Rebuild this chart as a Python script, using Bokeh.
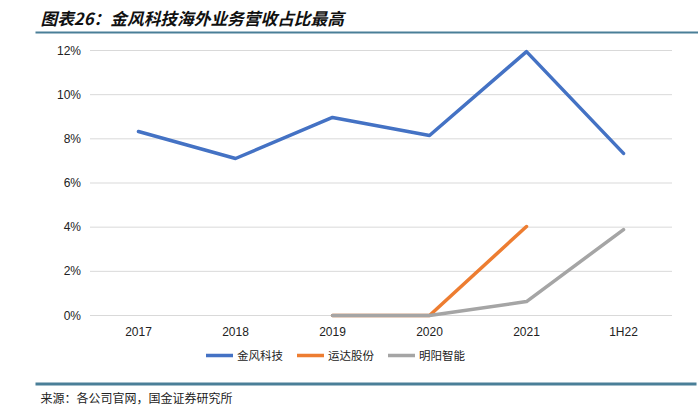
from bokeh.plotting import figure
from bokeh.models import (Range1d, FixedTicker, PrintfTickFormatter,
                          Legend, LegendItem, Label, BoxAnnotation)
from bokeh.embed import file_html
from bokeh.resources import INLINE

# ---- data ----
periods = ["2017", "2018", "2019", "2020", "2021", "1H22"]
goldwind = [8.33, 7.11, 8.97, 8.15, 11.95, 7.34]
windey_periods = ["2019", "2020", "2021"]
windey = [0.0, 0.0, 4.03]
mingyang_periods = ["2019", "2020", "2021", "1H22"]
mingyang = [0.0, 0.0, 0.63, 3.89]
series_names = ["金风科技", "运达股份", "明阳智能"]
colors = ["#4472C4", "#ED7D31", "#A5A5A5"]
yticks = [0, 2, 4, 6, 8, 10, 12]
title_text = "图表26：金风科技海外业务营收占比最高"
source_text = "来源：各公司官网，国金证券研究所"

# ---- layout constants (pixels on the canvas) ----
W, H = 698, 405
CJK = "Noto Sans CJK SC"
RULE = "#4a7f98"
PLOT_L, PLOT_R = 89.5, 671.5     # left / right edge of the category bands
Y0_PX, YTOP_PX = 315.0, 50.0     # pixel rows of y = 0 and y = max tick

idx = {c: i for i, c in enumerate(periods)}
n = len(periods)
xs_per_px = n / (PLOT_R - PLOT_L)
ys_per_px = yticks[-1] / (Y0_PX - YTOP_PX)
x_range = Range1d(-0.5 - PLOT_L * xs_per_px, n - 0.5 + (W - PLOT_R) * xs_per_px)
y_range = Range1d(-(H - Y0_PX) * ys_per_px, yticks[-1] + YTOP_PX * ys_per_px)

p = figure(width=W, height=H, output_backend="svg", toolbar_location=None,
           x_range=x_range, y_range=y_range, min_border=0,
           outline_line_color=None)
p.xgrid.visible = False
p.ygrid.visible = False

# horizontal gridlines across the category bands
p.segment(x0=[-0.5] * len(yticks), x1=[n - 0.5] * len(yticks), y0=yticks, y1=yticks,
          line_color="#d9d9d9", line_width=1)

r1 = p.line([idx[c] for c in periods], goldwind, line_color=colors[0],
            line_width=3.5, line_cap="round", line_join="round")
r2 = p.line([idx[c] for c in windey_periods], windey, line_color=colors[1],
            line_width=3.5, line_cap="round", line_join="round")
r3 = p.line([idx[c] for c in mingyang_periods], mingyang, line_color=colors[2],
            line_width=3.5, line_cap="round", line_join="round")

# axes, fixed at the edges of the plot area
xa, ya = p.xaxis[0], p.yaxis[0]
xa.fixed_location = -0.2
ya.fixed_location = -0.5
xa.ticker = FixedTicker(ticks=list(range(n)))
xa.major_label_overrides = {i: c for i, c in enumerate(periods)}
ya.ticker = FixedTicker(ticks=yticks)
ya.formatter = PrintfTickFormatter(format="%d%%")
for ax in (xa, ya):
    ax.axis_line_color = None
    ax.major_tick_line_color = None
    ax.minor_tick_line_color = None
    ax.major_tick_out = 0
    ax.major_tick_in = 0
    ax.minor_tick_out = 0
    ax.minor_tick_in = 0
    ax.major_label_text_font = "Liberation Sans"
    ax.major_label_text_font_size = "12px"
    ax.major_label_text_color = "#222222"
ya.major_label_standoff = 9
xa.major_label_standoff = 5

legend = Legend(items=[LegendItem(label=series_names[0], renderers=[r1]),
                       LegendItem(label=series_names[1], renderers=[r2]),
                       LegendItem(label=series_names[2], renderers=[r3])],
                orientation="horizontal", location=(206, 42),
                label_text_font=CJK, label_text_font_size="11.5px",
                label_text_color="#222222",
                glyph_width=27, glyph_height=16, label_height=16,
                label_standoff=4, spacing=14, padding=0, margin=0,
                border_line_color=None, background_fill_alpha=0)
p.add_layout(legend, "center")

# header / footer (canvas units: from the top-left of the canvas)
p.add_layout(Label(x=40, y=17, x_units="canvas", y_units="canvas", text=title_text,
                   text_font=CJK, text_font_size="16.7px",
                   text_font_style="bold italic", text_baseline="middle",
                   text_align="left", text_color="#111111"))
p.add_layout(BoxAnnotation(left=35, right=W, top=31, bottom=33,
                           left_units="canvas", right_units="canvas",
                           top_units="canvas", bottom_units="canvas",
                           fill_color=RULE, fill_alpha=1, line_color=None))
p.add_layout(BoxAnnotation(left=35, right=W - 2, top=382, bottom=385,
                           left_units="canvas", right_units="canvas",
                           top_units="canvas", bottom_units="canvas",
                           fill_color=RULE, fill_alpha=1, line_color=None))
p.add_layout(Label(x=40, y=397, x_units="canvas", y_units="canvas", text=source_text,
                   text_font=CJK, text_font_size="12px", text_baseline="middle",
                   text_align="left", text_color="#222222"))

open("out.html", "w").write(file_html(p, INLINE))
